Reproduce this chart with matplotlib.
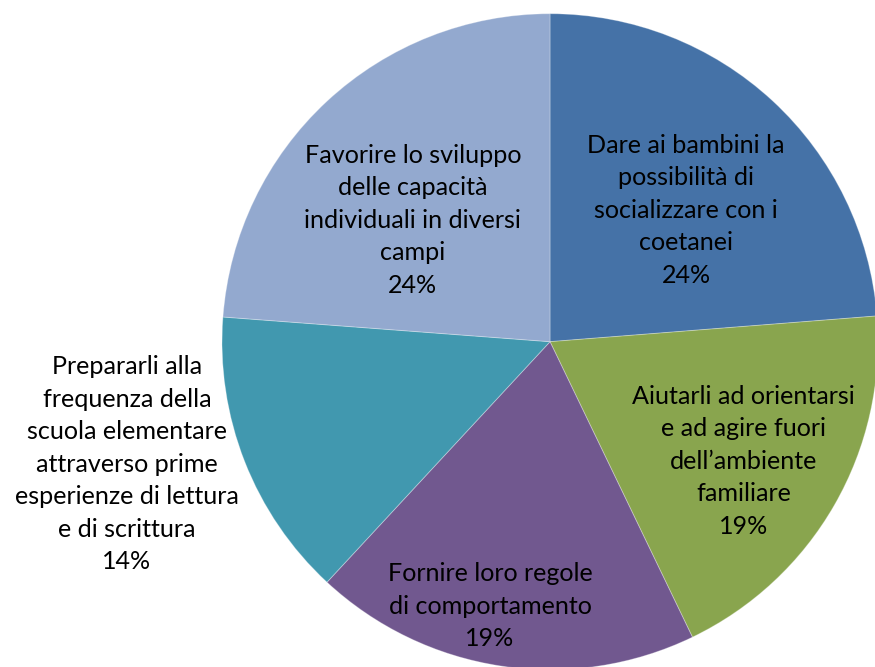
import matplotlib
matplotlib.use("Agg")
import matplotlib.pyplot as plt

# Data
categories = [
    "Dare ai bambini la\npossibilità di\nsocializzare con i\ncoetanei",
    "Aiutarli ad orientarsi\ne ad agire fuori\ndell’ambiente\nfamiliare",
    "Fornire loro regole\ndi comportamento",
    "Prepararli alla\nfrequenza della\nscuola elementare\nattraverso prime\nesperienze di lettura\ne di scrittura",
    "Favorire lo sviluppo\ndelle capacità\nindividuali in diversi\ncampi",
]
values = [23.75, 19.1, 19.05, 14.3, 23.8]
colors = ["#4572A7", "#89A54E", "#71588F", "#4198AF", "#93A9CF"]

# Label anchor positions (in units of pie radius, relative to centre)
label_pos = [(0.415, 0.401), (0.591, -0.364), (-0.183, -0.806),
             (-1.29, -0.373), (-0.418, 0.371)]

W, H = 875, 667
cx, cy, R = 550, 341.7, 328.0

fig = plt.figure(figsize=(W / 100, H / 100), dpi=100)
ax = fig.add_axes([0, 0, 1, 1])
wedges, _ = ax.pie(values, colors=colors, startangle=90, counterclock=False,
                   wedgeprops=dict(edgecolor=(1, 1, 1, 0.3), linewidth=0.7))
ax.set_aspect("auto")
ax.set_xlim(-cx / R, (W - cx) / R)
ax.set_ylim((cy - H) / R, cy / R)
ax.axis("off")

total = sum(values)
for cat, v, (x, y) in zip(categories, values, label_pos):
    ax.text(x, y, f"{cat}\n{round(v / total * 100):.0f}%", ha="center",
            va="center", fontsize=18.1, family=["Lato", "DejaVu Sans"],
            linespacing=1.5, color="black")

fig.savefig("out.png", dpi=100)
